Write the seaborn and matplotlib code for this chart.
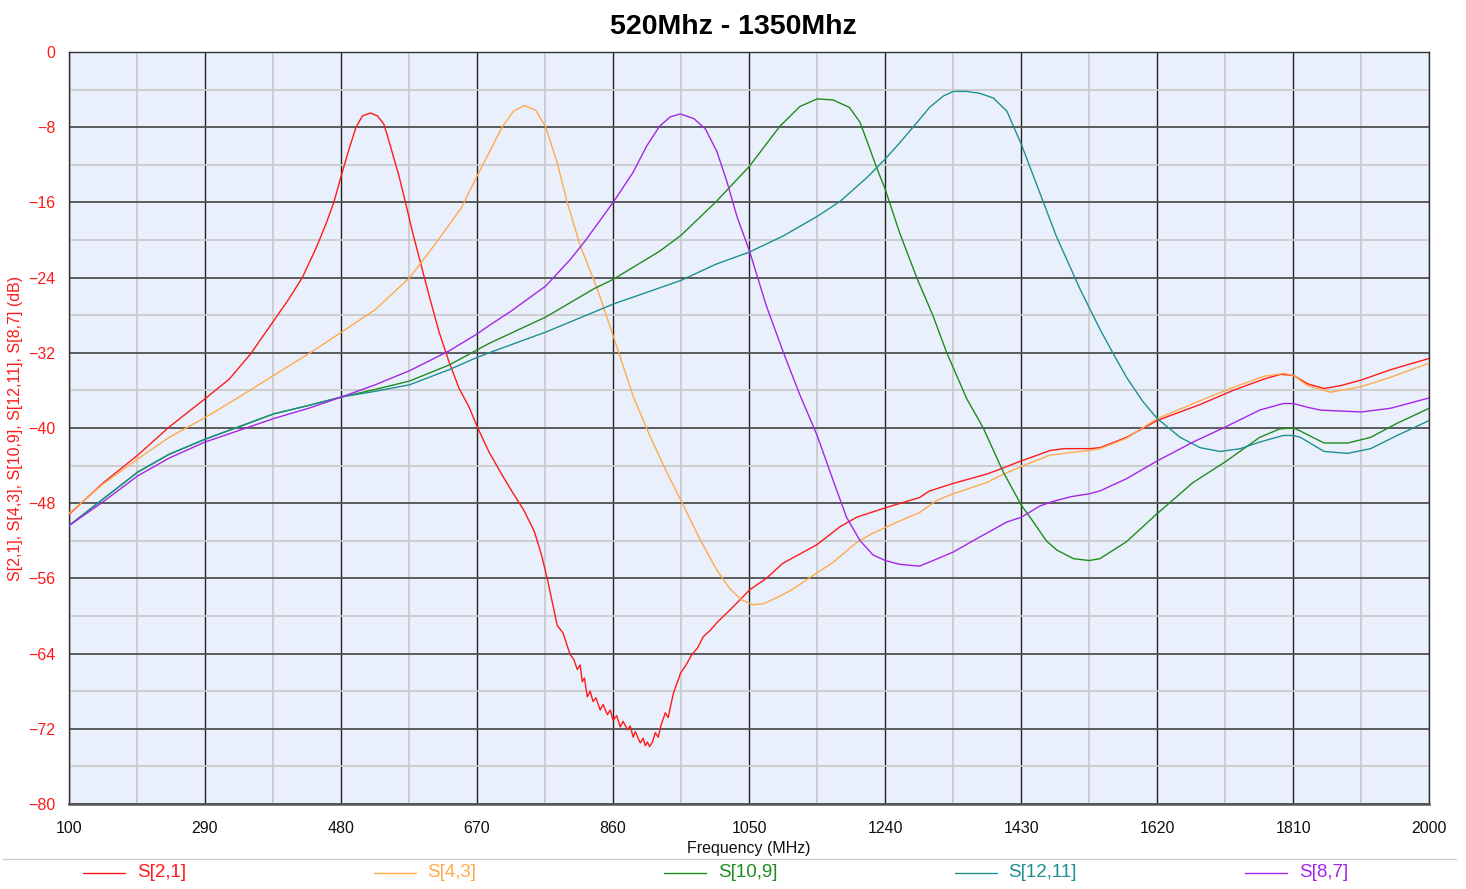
import pandas as pd
import matplotlib.pyplot as plt
import seaborn as sns
from matplotlib.lines import Line2D

# Data
s21_f = [100, 147, 196, 240, 290, 324, 354, 386, 407, 426, 445, 459, 470, 481, 491, 501, 510, 521,
         531, 540, 549, 561, 570, 580, 591, 603, 617, 631, 645, 659, 671, 687, 705, 720, 735, 750,
         760, 768, 775, 782, 790, 800, 805, 810, 814, 817, 820, 824, 828, 832, 836, 842, 846, 852,
         856, 860, 865, 870, 874, 880, 884, 888, 891, 895, 898, 902, 905, 908, 911, 915, 919, 923,
         927, 933, 937, 940, 944, 947, 951, 954, 962, 970, 978, 986, 996, 1005, 1020, 1037, 1051,
         1074, 1097, 1121, 1145, 1177, 1200, 1240, 1288, 1302, 1335, 1382, 1400, 1430, 1456, 1470,
         1490, 1525, 1540, 1577, 1620, 1680, 1726, 1769, 1792, 1810, 1830, 1853, 1876, 1905, 1946,
         2000]
s21_v = [-49.2, -45.9, -42.9, -39.9, -36.9, -34.8, -32.1, -28.6, -26.3, -24.0, -20.9, -18.3, -16.0,
         -13.0, -10.4, -8.0, -6.8, -6.5, -6.8, -7.7, -10.0, -13.2, -16.0, -19.2, -22.4, -25.9,
         -29.8, -33.0, -35.8, -37.8, -40.0, -42.6, -45.0, -46.9, -48.7, -51.0, -53.5, -56.0, -58.5,
         -61.0, -61.8, -64.1, -64.6, -65.7, -65.2, -67.0, -66.6, -68.6, -68.0, -69.1, -68.7, -70.0,
         -69.4, -70.5, -70.0, -71.1, -70.6, -71.8, -71.2, -72.1, -71.7, -72.9, -72.3, -73.0, -73.5,
         -73.0, -73.8, -73.4, -73.9, -73.4, -72.4, -72.9, -71.6, -70.3, -70.8, -69.7, -68.3, -67.6,
         -66.8, -66.1, -65.2, -64.1, -63.4, -62.2, -61.5, -60.7, -59.6, -58.3, -57.2, -56.0, -54.4,
         -53.4, -52.4, -50.5, -49.5, -48.5, -47.4, -46.7, -45.9, -44.9, -44.4, -43.5, -42.8, -42.4,
         -42.2, -42.2, -42.1, -41.0, -39.2, -37.5, -36.0, -34.8, -34.3, -34.4, -35.3, -35.8, -35.5,
         -34.9, -33.8, -32.6]

s43_f = [100, 147, 196, 240, 290, 340, 386, 435, 481, 528, 576, 612, 648, 670, 689, 705, 721, 736,
         752, 766, 782, 796, 814, 838, 861, 888, 911, 935, 956, 981, 1004, 1023, 1040, 1055, 1070,
         1090, 1110, 1137, 1167, 1200, 1220, 1240, 1260, 1288, 1312, 1335, 1382, 1400, 1430, 1470,
         1500, 1525, 1540, 1577, 1620, 1680, 1722, 1769, 1797, 1810, 1830, 1862, 1905, 1946, 2000]
s43_v = [-49.1, -46.0, -43.3, -41.0, -38.9, -36.6, -34.4, -32.1, -29.8, -27.4, -24.0, -20.4, -16.6,
         -13.2, -10.4, -8.0, -6.3, -5.7, -6.2, -8.0, -11.8, -16.0, -20.6, -25.2, -30.4, -36.6,
         -40.8, -44.7, -47.9, -51.8, -55.0, -57.1, -58.3, -58.8, -58.7, -58.0, -57.2, -55.8, -54.3,
         -52.2, -51.3, -50.6, -49.9, -49.0, -47.7, -47.0, -45.8, -45.1, -44.1, -42.9, -42.6, -42.4,
         -42.2, -41.1, -39.0, -37.1, -35.8, -34.5, -34.2, -34.4, -35.5, -36.2, -35.6, -34.6, -33.1]

s109_f = [100, 147, 196, 240, 290, 340, 386, 435, 481, 528, 576, 631, 670, 687, 766, 833, 860, 925,
          955, 1003, 1050, 1093, 1121, 1145, 1167, 1190, 1205, 1219, 1228, 1240, 1260, 1284, 1307,
          1326, 1354, 1377, 1405, 1430, 1447, 1465, 1480, 1503, 1525, 1540, 1577, 1620, 1670, 1715,
          1763, 1791, 1810, 1819, 1853, 1886, 1918, 1955, 2000]
s109_v = [-50.4, -47.6, -44.7, -42.8, -41.2, -39.8, -38.5, -37.6, -36.7, -35.9, -35.0, -33.3, -31.7,
          -31.0, -28.2, -25.2, -24.2, -21.2, -19.5, -16.0, -12.2, -7.9, -5.8, -5.0, -5.1, -5.9,
          -7.5, -10.4, -12.3, -14.6, -19.2, -24.0, -28.1, -32.0, -36.9, -40.0, -44.7, -48.2, -50.0,
          -52.0, -53.0, -53.9, -54.1, -53.9, -52.1, -49.1, -45.8, -43.6, -41.0, -40.1, -40.0, -40.3,
          -41.6, -41.6, -41.0, -39.5, -37.9]

s1211_f = [100, 147, 196, 240, 290, 340, 386, 435, 481, 528, 576, 631, 670, 687, 766, 861, 955, 1003,
           1050, 1097, 1145, 1177, 1214, 1240, 1260, 1279, 1302, 1321, 1335, 1354, 1372, 1391, 1410,
           1430, 1447, 1461, 1479, 1512, 1540, 1560, 1577, 1600, 1620, 1652, 1680, 1708, 1736, 1763,
           1796, 1810, 1820, 1853, 1886, 1918, 1955, 2000]
s1211_v = [-50.4, -47.6, -44.7, -42.8, -41.2, -39.8, -38.5, -37.6, -36.7, -36.1, -35.4, -33.8, -32.5,
           -32.0, -29.8, -26.8, -24.3, -22.6, -21.3, -19.6, -17.5, -15.9, -13.4, -11.4, -9.7, -8.0,
           -5.9, -4.7, -4.2, -4.2, -4.4, -4.9, -6.3, -9.8, -13.2, -16.0, -19.6, -25.2, -29.5, -32.3,
           -34.6, -37.2, -39.0, -41.0, -42.1, -42.5, -42.2, -41.5, -40.8, -40.8, -41.0, -42.5, -42.7,
           -42.2, -40.8, -39.2]

s87_f = [100, 147, 196, 240, 290, 340, 386, 435, 481, 528, 576, 631, 670, 687, 717, 766, 800, 819,
         842, 861, 888, 907, 925, 940, 954, 973, 989, 1005, 1019, 1033, 1051, 1074, 1098, 1121, 1145,
         1167, 1186, 1205, 1223, 1240, 1260, 1288, 1307, 1335, 1372, 1410, 1430, 1456, 1475, 1500,
         1525, 1540, 1577, 1620, 1670, 1715, 1763, 1796, 1810, 1830, 1848, 1905, 1946, 2000]
s87_v = [-50.4, -47.9, -45.1, -43.2, -41.5, -40.2, -39.0, -37.9, -36.7, -35.4, -33.9, -31.8, -30.0,
         -29.1, -27.6, -24.9, -22.1, -20.3, -17.9, -15.9, -12.8, -10.0, -7.9, -6.9, -6.6, -7.1, -8.2,
         -10.6, -13.8, -17.5, -21.3, -27.0, -32.0, -36.5, -40.8, -45.5, -49.5, -52.0, -53.5, -54.1,
         -54.5, -54.7, -54.1, -53.2, -51.6, -50.0, -49.5, -48.3, -47.8, -47.3, -47.0, -46.7, -45.4,
         -43.5, -41.5, -39.9, -38.1, -37.4, -37.4, -37.8, -38.1, -38.3, -37.9, -36.8]

names = ["S[2,1]", "S[4,3]", "S[10,9]", "S[12,11]", "S[8,7]"]
colors = ["#FF1A1A", "#FFAA4C", "#1E8C1E", "#1E9090", "#A526E6"]
series = [(s21_f, s21_v), (s43_f, s43_v), (s109_f, s109_v), (s1211_f, s1211_v), (s87_f, s87_v)]

df = pd.concat([pd.DataFrame({"freq": f, "db": v, "trace": n})
                for n, (f, v) in zip(names, series)], ignore_index=True)

sns.set_theme(style="white")
plt.rcParams["font.family"] = ["Liberation Sans", "DejaVu Sans"]

fig = plt.figure(figsize=(14.66, 8.89), dpi=100)
ax = fig.add_axes([0.047, 0.0956, 0.928, 0.846])
ax.set_facecolor("#EAF0FB")

sns.lineplot(data=df, x="freq", y="db", hue="trace", palette=dict(zip(names, colors)),
             linewidth=1.0, legend=False, ax=ax, zorder=3)

ax.set_xlim(100, 2000)
ax.set_ylim(-80, 0)
ax.set_xticks(range(100, 2001, 190))
ax.set_xticks(range(195, 2000, 190), minor=True)
ax.set_yticks(range(-80, 1, 8))
ax.set_yticks(range(-76, 0, 8), minor=True)

ax.grid(True, which="minor", color="#C8C8C8", linewidth=1.2, zorder=1)
ax.xaxis.grid(True, which="major", color="#202020", linewidth=1.0, zorder=2)
ax.yaxis.grid(True, which="major", color="#505050", linewidth=1.3, zorder=2)
ax.set_axisbelow(True)

for side in ["top", "right", "left"]:
    ax.spines[side].set_color("#303030")
    ax.spines[side].set_linewidth(1.0)
ax.spines["bottom"].set_color("#555555")
ax.spines["bottom"].set_linewidth(1.8)

ax.tick_params(axis="both", which="major", direction="out", length=6, width=1, color="#202020",
               labelsize=11.5)
ax.tick_params(axis="both", which="minor", length=0)
ax.tick_params(axis="y", labelcolor="#FF1A1A")
ax.tick_params(axis="x", labelcolor="#111111", pad=6)

ax.set_xlabel("Frequency (MHz)", fontsize=11.5, color="#111111", labelpad=4)
ax.set_ylabel("S[2,1], S[4,3], S[10,9], S[12,11], S[8,7] (dB)", fontsize=11.5, color="#FF1A1A",
              labelpad=4)

fig.text(0.5, 0.970, "520Mhz - 1350Mhz", fontsize=20.5, fontweight="bold", color="black",
         ha="center", va="center")

# legend strip below the axes
fig.add_artist(Line2D([0.002, 0.993], [0.034, 0.034], color="#CCCCCC", linewidth=1.0))
for i, (n, c) in enumerate(zip(names, colors)):
    x0 = (83 + i * 290.5) / 1466
    fig.add_artist(Line2D([x0, x0 + 42 / 1466], [0.0185, 0.0185], color=c, linewidth=1.0))
    fig.text(x0 + 54 / 1466, 0.0185, n, color=c, fontsize=13.5, va="center", ha="left")

plt.savefig("out.png", dpi=100)
